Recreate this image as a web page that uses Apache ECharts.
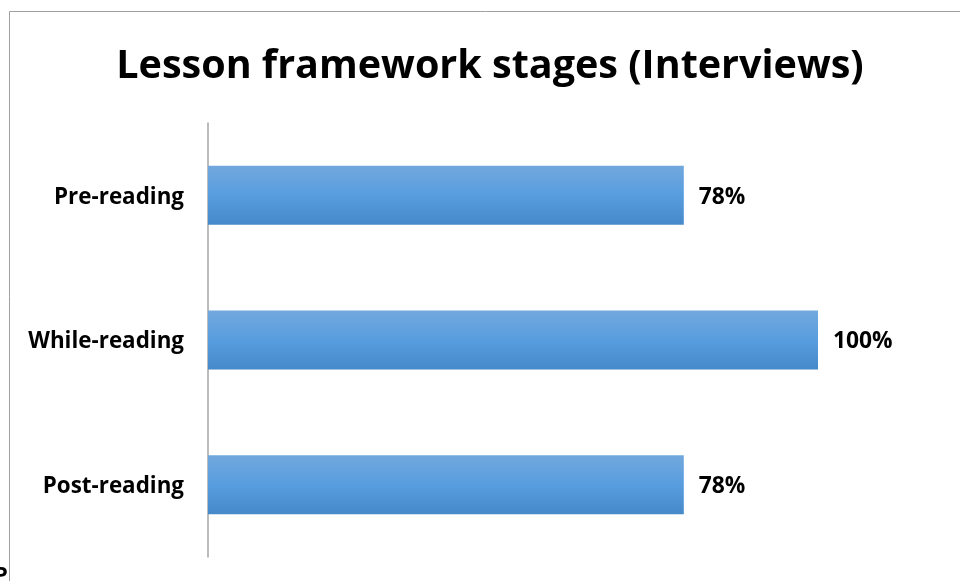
<!DOCTYPE html>
<html>
<head>
<meta charset="utf-8">
<script src="https://cdn.jsdelivr.net/npm/echarts@6/dist/echarts.min.js"></script>
<style>
html,body{margin:0;padding:0;background:#fff;}
#chart{width:960px;height:581px;}
</style>
</head>
<body>
<div id="chart"></div>
<script>
// Lesson framework stages reported in interviews (percent)
const categories = ['Pre-reading', 'While-reading', 'Post-reading'];
const values = [78, 100, 78];

const chart = echarts.init(document.getElementById('chart'));
const font = '"Open Sans", "DejaVu Sans", sans-serif';

chart.setOption({
  animation: false,
  backgroundColor: '#ffffff',
  title: {
    text: 'Lesson framework stages (Interviews)',
    left: 485,
    textAlign: 'center',
    top: 42,
    textStyle: { fontFamily: font, fontWeight: 'bold', fontSize: 39.5, color: '#000' }
  },
  graphic: [
    {
      type: 'rect',
      shape: { x: 9.5, y: 11.5, width: 1000, height: 1000 },
      style: { fill: 'none', stroke: '#a0a0a0', lineWidth: 1 },
      silent: true
    },
    {
      type: 'text',
      left: -6,
      top: 565,
      style: { text: 'P', font: 'bold 22px ' + font, fill: '#000' },
      silent: true
    }
  ],
  grid: { left: 208, top: 123, width: 610, height: 434, containLabel: false },
  xAxis: {
    type: 'value',
    min: 0,
    max: 100,
    show: false
  },
  yAxis: {
    type: 'category',
    data: categories,
    inverse: true,
    axisLine: { show: true, lineStyle: { color: '#a6a6a6', width: 1.5 } },
    axisTick: { show: false },
    axisLabel: {
      margin: 24,
      formatter: function (v) { return '{c|' + v + '}'; },
      rich: {
        c: {
          padding: [4, 0, 0, 0],
          fontFamily: font,
          fontWeight: 'bold',
          fontSize: 22.4,
          color: '#000'
        }
      }
    }
  },
  series: [{
    type: 'bar',
    data: values,
    barWidth: 59,
    itemStyle: {
      color: new echarts.graphic.LinearGradient(0, 0, 0, 1, [
        { offset: 0, color: '#72a8dd' },
        { offset: 0.5, color: '#589ddf' },
        { offset: 1, color: '#4689c9' }
      ])
    },
    label: {
      show: true,
      position: 'right',
      distance: 15,
      offset: [0, 2],
      formatter: '{c}%',
      fontFamily: font,
      fontWeight: 'bold',
      fontSize: 22.8,
      color: '#000'
    }
  }]
});
</script>
</body>
</html>
